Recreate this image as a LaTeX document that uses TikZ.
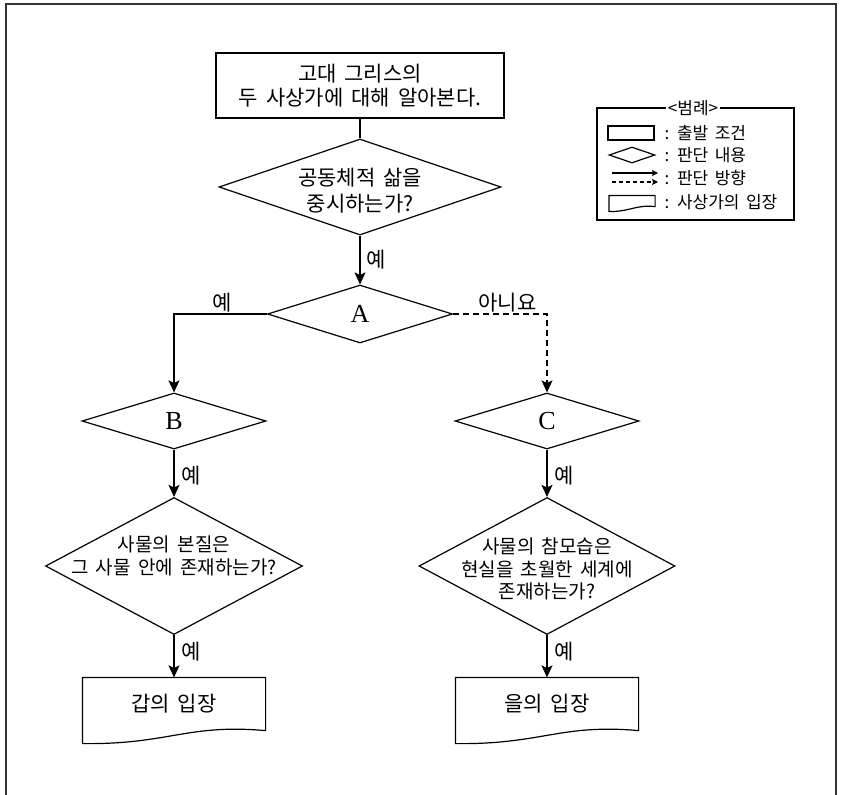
\documentclass[tikz,border=0pt]{standalone}
\usepackage{fontspec}
\setmainfont{Liberation Serif}
\newfontfamily\krfont[WordSpace=1.7]{Noto Sans CJK KR}
\usetikzlibrary{shapes.geometric, arrows.meta}
% text of zero size, so that the diamond keeps its given size
\newcommand{\flattext}[2][-4pt]{\raisebox{#1}[0pt][0pt]{\makebox[0pt]{\begin{tabular}{@{}c@{}}#2\end{tabular}}}}

\begin{document}
\begin{tikzpicture}[
    x=0.5pt, y=-0.5pt,
    line width=0.6pt,
    every node/.style={font=\krfont\fontsize{10.5}{13}\selectfont},
    box/.style={draw, rectangle, align=center, inner sep=0pt,
        minimum width=144pt, minimum height=32.5pt,
        font=\krfont\fontsize{10.5}{12}\selectfont},
    decision/.style={draw, diamond, inner sep=0pt},
    doc/.style={rectangle, inner sep=0pt, minimum width=91pt, minimum height=26pt},
    arr/.style={-{Stealth[length=6pt,width=5.5pt,inset=1.3pt]}},
    smallarr/.style={-{Stealth[length=3pt,width=3pt,inset=0.6pt]}},
    yes/.style={inner sep=1.5pt},
    legendtext/.style={font=\krfont\fontsize{8.5}{10}\selectfont, anchor=west, inner sep=0pt}
]

    \useasboundingbox (0,0) rectangle (841,794);

    % Outer frame
    \draw[line width=1.2pt, black!80] (6,4) rectangle (836,806);

    % Start
    \node[box] (start) at (360,85.5) {고대 그리스의\\두 사상가에 대해 알아본다.};

    % Decisions
    \node[decision, minimum width=141pt, minimum height=48pt] (commun) at (360,187)
        {\flattext[-6pt]{공동체적 삶을\\중시하는가?}};
    \node[decision, minimum width=92.5pt, minimum height=29pt] (A) at (360,314)
        {\rmfamily\fontsize{13}{15}\selectfont A};
    \node[decision, minimum width=92pt, minimum height=28pt] (B) at (174,421)
        {\rmfamily\fontsize{13}{15}\selectfont B};
    \node[decision, minimum width=92pt, minimum height=28pt] (C) at (547,421)
        {\rmfamily\fontsize{13}{15}\selectfont C};
    \node[decision, minimum width=128.5pt, minimum height=68.5pt,
        font=\krfont\fontsize{9.5}{11}\selectfont] (D) at (174,566)
        {\flattext[1.5pt]{사물의 본질은\\그 사물 안에 존재하는가?}};
    \node[decision, minimum width=128pt, minimum height=68.5pt,
        font=\krfont\fontsize{9.5}{11.25}\selectfont] (E) at (547,566)
        {\flattext[-5pt]{사물의 참모습은\\현실을 초월한 세계에\\존재하는가?}};

    % Positions of the two thinkers
    \node[doc] (docA) at (174,704) {갑의 입장};
    \node[doc] (docB) at (547,704) {을의 입장};
    \draw (docA.north west) -- (docA.north east) -- (docA.south east)
        .. controls +(-79,-7) and +(87,1) .. ([yshift=-6.5pt]docA.south west) -- cycle;
    \draw (docB.north west) -- (docB.north east) -- (docB.south east)
        .. controls +(-79,-7) and +(87,1) .. ([yshift=-6.5pt]docB.south west) -- cycle;

    % Connectors
    \draw (start) -- (commun);
    \draw[arr] (commun) -- node[yes, right, xshift=1.5pt] (yes1) {예} (A);
    \draw[arr] (A.west) -| node[yes, above, pos=0.24, inner sep=0.5pt] (yes2) {예} (B.north);
    \draw[arr, dash pattern=on 3pt off 2pt] (A.east) -| node[yes, above, pos=0.29, inner sep=0.5pt] (no1) {아니요} (C.north);
    \draw[arr] (B) -- node[yes, right, pos=0.55, xshift=2pt] (yes3) {예} (D);
    \draw[arr] (C) -- node[yes, right, pos=0.55, xshift=2pt] (yes4) {예} (E);
    \draw[arr] (D) -- node[yes, right, pos=0.4, xshift=2pt] (yes5) {예} (docA);
    \draw[arr] (E) -- node[yes, right, pos=0.4, xshift=2pt] (yes6) {예} (docB);

    % Legend
    \node[draw, rectangle, inner sep=0pt, minimum width=98.5pt, minimum height=56pt] (legend) at (695.5,164) {};
    \node[fill=white, inner sep=1pt, font=\krfont\fontsize{8.5}{10}\selectfont] (legendtitle) at (693,108) {<범례>};
    \node[draw, rectangle, inner sep=0pt, minimum width=23pt, minimum height=7pt] (keybox) at (631,133) {};
    \node[decision, minimum width=23pt, minimum height=8pt] (keydiamond) at (632,155) {};
    \coordinate (keysolidA) at (612,173);
    \coordinate (keysolidB) at (658,173);
    \coordinate (keydashA) at (612,182);
    \coordinate (keydashB) at (658,182);
    \draw[smallarr] (keysolidA) -- (keysolidB);
    \draw[smallarr, dash pattern=on 2pt off 1.5pt] (keydashA) -- (keydashB);
    \node[doc, minimum width=22.5pt, minimum height=5pt] (keydoc) at (632,201) {};
    \draw (keydoc.north west) -- (keydoc.north east) -- (keydoc.south east)
        .. controls +(-20,-2) and +(22,0) .. ([yshift=-2.5pt]keydoc.south west) -- cycle;
    \node[legendtext] (keytextA) at (664,133) {: 출발 조건};
    \node[legendtext] (keytextB) at (664,155) {: 판단 내용};
    \node[legendtext] (keytextC) at (664,178) {: 판단 방향};
    \node[legendtext] (keytextD) at (664,202) {: 사상가의 입장};

\end{tikzpicture}
\end{document}
